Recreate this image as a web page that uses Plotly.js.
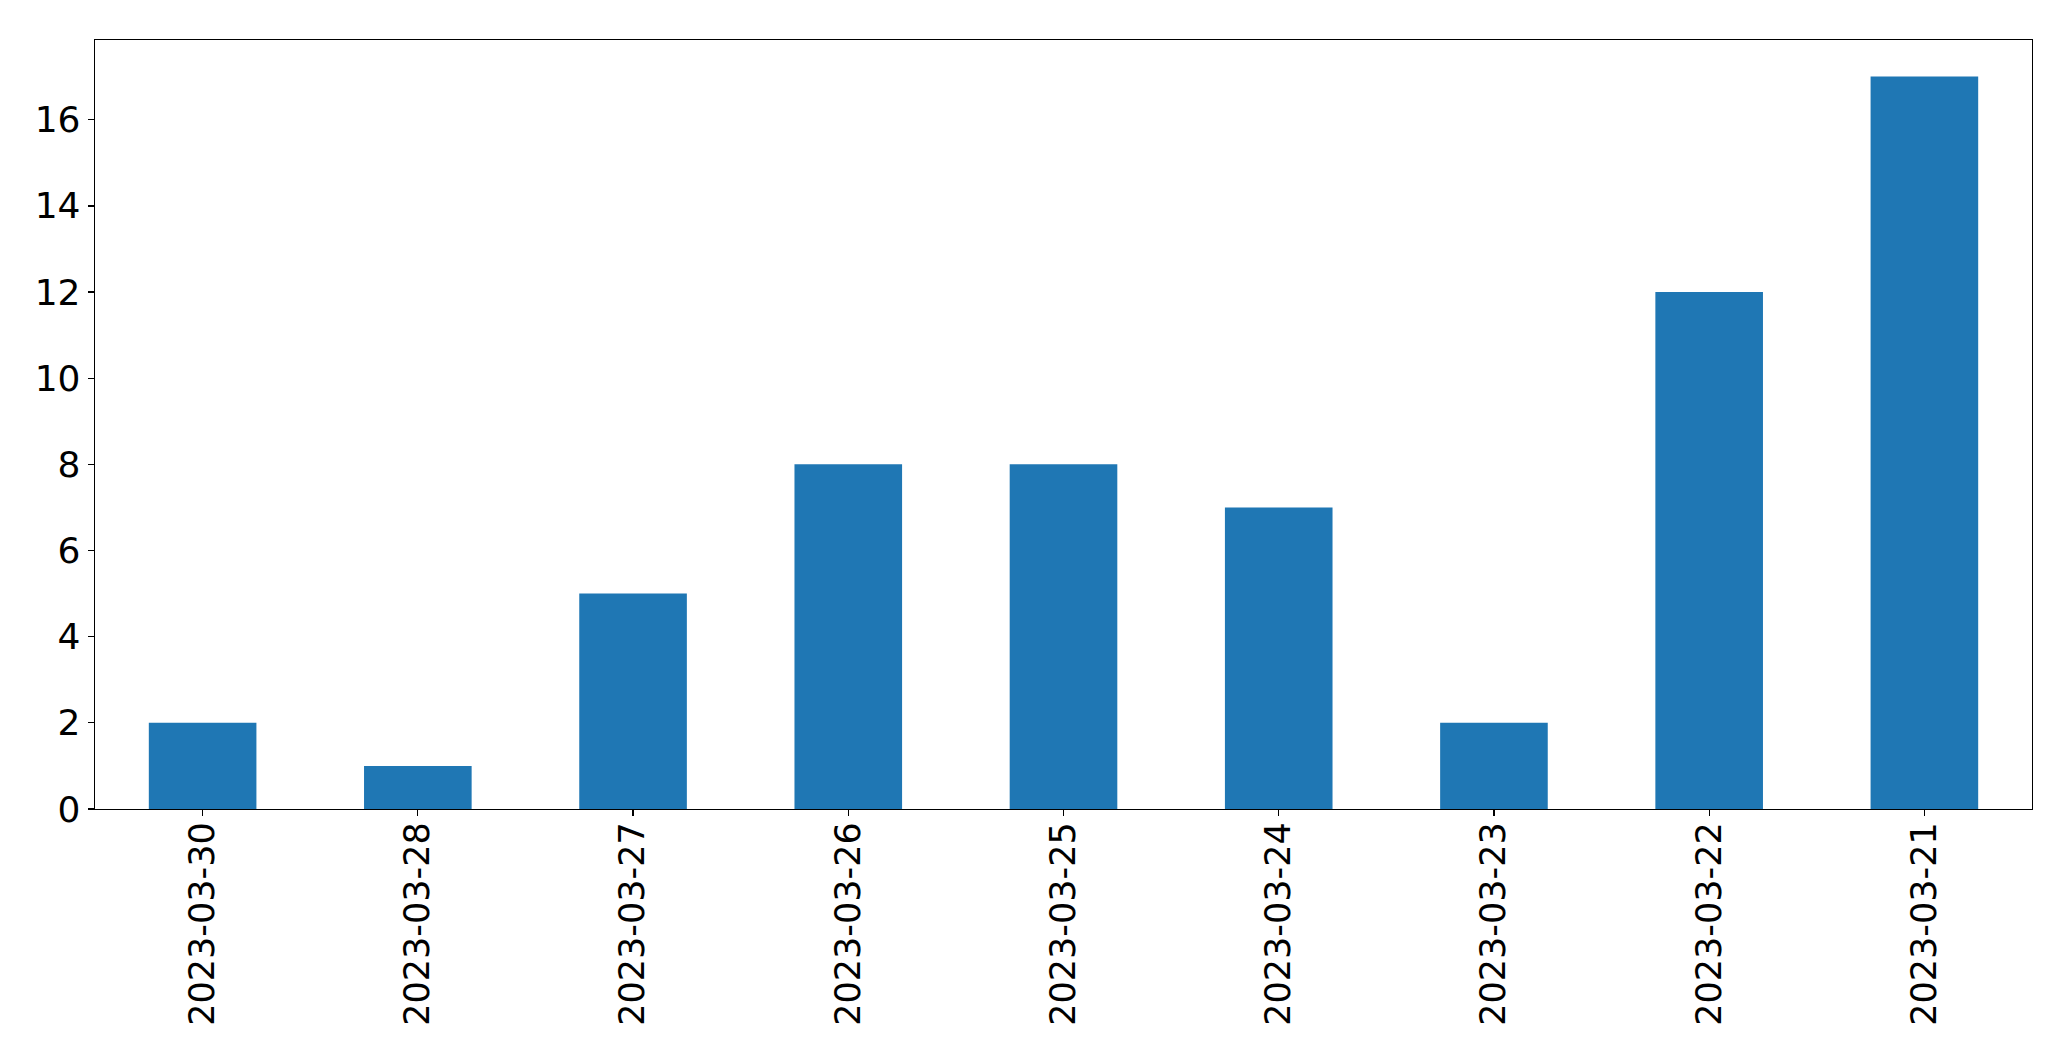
<!DOCTYPE html>
<html>
<head>
<meta charset="utf-8">
<script src="https://cdn.plot.ly/plotly-3.0.1.min.js"></script>
<style>html,body{margin:0;padding:0;background:#fff;}#chart{width:2071px;height:1061px;}</style>
</head>
<body>
<div id="chart"></div>
<script>
const dates = ["2023-03-30","2023-03-28","2023-03-27","2023-03-26","2023-03-25","2023-03-24","2023-03-23","2023-03-22","2023-03-21"];
const counts = [2, 1, 5, 8, 8, 7, 2, 12, 17];
const yTicks = [0, 2, 4, 6, 8, 10, 12, 14, 16];

const trace = {
  type: 'bar',
  x: dates,
  y: counts,
  width: 0.5,
  marker: {color: '#1f77b4', line: {width: 0}},
  hoverinfo: 'x+y'
};

const layout = {
  width: 2071,
  height: 1061,
  paper_bgcolor: '#ffffff',
  plot_bgcolor: '#ffffff',
  showlegend: false,
  font: {family: 'DejaVu Sans, sans-serif', size: 36, color: '#000000'},
  margin: {l: 94.5, r: 39, t: 40, b: 252, pad: 0},
  xaxis: {
    type: 'category',
    range: [-0.5, dates.length - 0.5],
    tickangle: -90,
    ticklabelstandoff: -8,
    showline: true, linecolor: '#000000', linewidth: 1.3, mirror: true,
    ticks: 'outside', ticklen: 6, tickwidth: 1.3, tickcolor: '#000000',
    showgrid: false, zeroline: false, automargin: false,
    tickfont: {family: 'DejaVu Sans, sans-serif', size: 35, color: '#000000'}
  },
  yaxis: {
    range: [0, Math.max(...counts) * 1.05],
    tickmode: 'array', tickvals: yTicks, ticktext: yTicks.map(String),
    showline: true, linecolor: '#000000', linewidth: 1.3, mirror: true,
    ticks: 'outside', ticklen: 6, tickwidth: 1.3, tickcolor: '#000000',
    showgrid: false, zeroline: false, automargin: false,
    tickfont: {family: 'DejaVu Sans, sans-serif', size: 36, color: '#000000'}
  }
};

Plotly.newPlot('chart', [trace], layout, {displayModeBar: false, staticPlot: true});
</script>
</body>
</html>
